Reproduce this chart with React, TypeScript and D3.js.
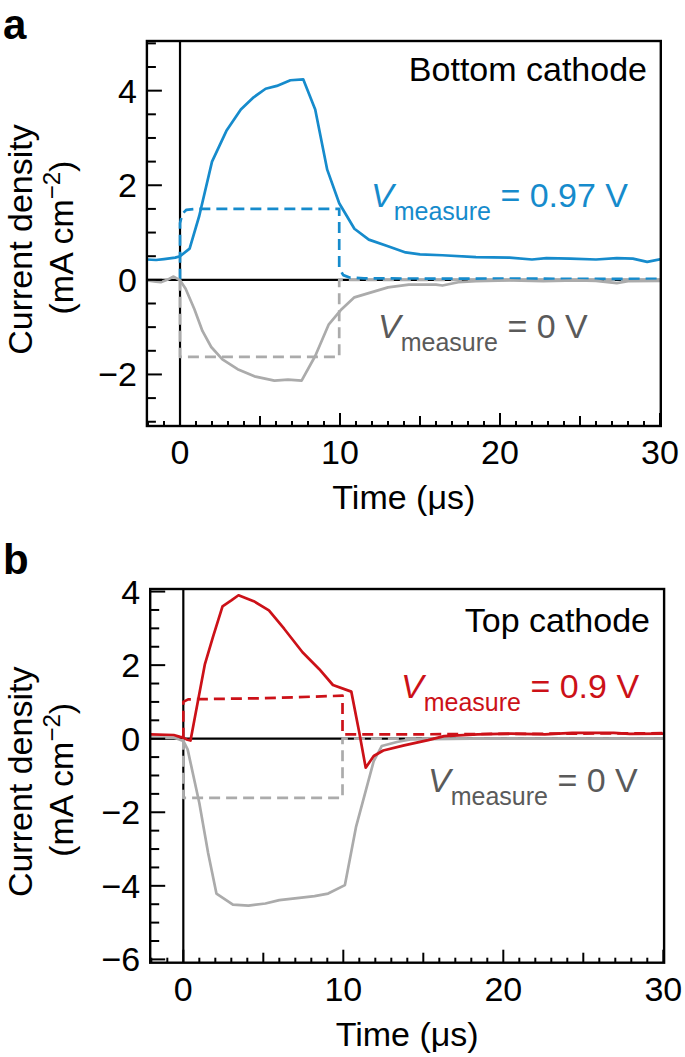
import React from 'react';
import * as d3 from 'd3';

type Pt = [number, number];

// ---------- data (time in µs, current density in mA cm^-2) ----------
const xTickLabels = [0, 10, 20, 30];
const yTickLabelsA = [-2, 0, 2, 4];
const yTickLabelsB = [-6, -4, -2, 0, 2, 4];

// Panel a – bottom cathode
const bottomMeasureSolid: Pt[] = [
  [-2.07, 0.43], [-1.5, 0.42], [-1, 0.44], [-0.3, 0.47], [0, 0.5], [0.6, 0.66],
  [1.2, 1.35], [2.0, 2.5], [2.9, 3.15], [3.8, 3.6], [4.6, 3.86], [5.35, 4.04],
  [6.05, 4.1], [6.9, 4.22], [7.7, 4.24], [8.45, 3.6], [9.2, 2.33], [9.95, 1.62],
  [10.9, 1.08], [11.8, 0.85], [13.0, 0.71], [14.1, 0.58], [15.0, 0.54], [16.4, 0.52],
  [18.5, 0.48], [20.6, 0.47], [22.0, 0.43], [22.9, 0.46], [24.4, 0.45], [26.0, 0.43],
  [27.3, 0.46], [28.3, 0.45], [29.2, 0.38], [30.1, 0.44],
];
const bottomMeasurePulse: Pt[] = [
  [0, 0], [0, 1.2], [0.15, 1.4], [0.4, 1.48], [1, 1.5], [9.95, 1.5], [9.95, 0.25],
  [10.2, 0.1], [10.6, 0.05], [11.5, 0.03], [30.1, 0.02],
];
const bottomZeroSolid: Pt[] = [
  [-2.07, -0.01], [-1.5, -0.04], [-1.2, -0.05], [-0.8, 0.0], [-0.4, 0.07], [-0.15, 0.02],
  [0, -0.01], [0.35, -0.19], [0.9, -0.62], [1.4, -1.08], [1.95, -1.42], [2.65, -1.68],
  [3.6, -1.89], [4.65, -2.04], [5.9, -2.13], [6.75, -2.11], [7.6, -2.13], [8.45, -1.61],
  [9.3, -0.94], [10.1, -0.62], [10.9, -0.37], [12.0, -0.26], [13.0, -0.16], [14.3, -0.1],
  [16.0, -0.1], [16.4, -0.12], [17.4, -0.05], [18.5, -0.03], [20.6, -0.01], [22.7, -0.03],
  [24.8, -0.01], [26.0, -0.02], [27.3, -0.07], [28.0, -0.03], [30.1, -0.02],
];
const bottomZeroPulse: Pt[] = [
  [0, 0], [0, -1.63], [9.95, -1.63], [9.95, 0], [30.1, 0],
];

// Panel b – top cathode
const topMeasureSolid: Pt[] = [
  [-2.07, 0.12], [-0.6, 0.1], [-0.2, 0.05], [0, 0.03], [0.2, -0.02], [0.45, -0.05],
  [0.7, 0.53], [1.35, 2.03], [1.85, 2.76], [2.45, 3.6], [3.0, 3.76], [3.45, 3.9],
  [4.4, 3.74], [5.35, 3.49], [6.3, 2.99], [7.45, 2.35], [8.5, 1.89], [9.35, 1.46],
  [10.5, 1.28], [11.0, 0.16], [11.4, -0.79], [11.9, -0.47], [12.5, -0.32], [13.8, -0.18],
  [15.3, -0.04], [16.3, 0.07], [18.4, 0.12], [20.5, 0.14], [22.6, 0.12], [24.3, 0.16],
  [26.9, 0.16], [27.9, 0.13], [30.1, 0.14],
];
const topMeasurePulse: Pt[] = [
  [0, 0], [0, 1.0], [0.3, 1.07], [5, 1.1], [9.95, 1.17], [9.95, 0.12], [15, 0.12], [30.1, 0.15],
];
const topZeroSolid: Pt[] = [
  [-2.07, 0.03], [-0.6, 0.03], [0, -0.06], [0.27, -0.29], [1.0, -1.75], [1.55, -3.11],
  [2.07, -4.21], [3.1, -4.51], [4.07, -4.54], [5.13, -4.48], [6.0, -4.39], [7.25, -4.33],
  [8.2, -4.28], [9.05, -4.21], [10.1, -3.98], [10.8, -2.39], [11.9, -0.61], [12.4, -0.2],
  [13.35, -0.09], [14.2, -0.02], [18, 0.0], [30.1, 0.0],
];
const topZeroPulse: Pt[] = [
  [0, 0], [0, -1.61], [9.95, -1.61], [9.95, 0], [30.1, 0],
];

// ---------- styling ----------
const FONT = '"Liberation Sans", Arial, Helvetica, sans-serif';
const BLUE = '#168bcc';
const RED = '#cc1118';
const GRAY_LINE = '#ababab';
const GRAY_TEXT = '#5a5a5a';
const DASH = '11 6';

interface PanelProps {
  id: string;
  letter: string;
  letterY: number;
  left: number; right: number; top: number; bottom: number;
  xDomain: [number, number];
  yDomain: [number, number];
  yLabels: number[];
  measureSolid: Pt[]; measurePulse: Pt[]; zeroSolid: Pt[]; zeroPulse: Pt[];
  color: string;
  title: string; titleX: number; titleY: number;
  measureText: string; mX: number; mY: number;
  zeroX: number; zeroY: number;
}

function Panel(p: PanelProps) {
  const x = d3.scaleLinear().domain(p.xDomain).range([p.left, p.right]);
  const y = d3.scaleLinear().domain(p.yDomain).range([p.bottom, p.top]);
  const line = d3.line<Pt>().x(d => x(d[0])).y(d => y(d[1]));

  const yTicks = d3.range(Math.ceil(p.yDomain[0] * 2) / 2, p.yDomain[1] + 1e-9, 0.5);
  const xTicks = d3.range(Math.ceil(p.xDomain[0]), p.xDomain[1] + 1e-9, 1);
  const cx = (p.left + p.right) / 2;
  const cy = (p.top + p.bottom) / 2;

  return (
    <g fontFamily={FONT}>
      <defs>
        <clipPath id={`clip-${p.id}`}>
          <rect x={p.left} y={p.top} width={p.right - p.left} height={p.bottom - p.top} />
        </clipPath>
      </defs>
      <text x={3} y={p.letterY} fontSize={42} fontWeight="bold" fill="#000">{p.letter}</text>

      {/* zero lines */}
      <line x1={x(0)} x2={x(0)} y1={p.top} y2={p.bottom} stroke="#000" strokeWidth={2.2} />
      <line x1={p.left} x2={p.right} y1={y(0)} y2={y(0)} stroke="#000" strokeWidth={2.2} />

      <g clipPath={`url(#clip-${p.id})`} fill="none" strokeWidth={2.7} strokeLinejoin="round">
        <path d={line(p.zeroPulse) || ''} stroke={GRAY_LINE} strokeDasharray={DASH} />
        <path d={line(p.measurePulse) || ''} stroke={p.color} strokeDasharray={DASH} />
        <path d={line(p.zeroSolid) || ''} stroke={GRAY_LINE} />
        <path d={line(p.measureSolid) || ''} stroke={p.color} />
      </g>

      {/* ticks */}
      {yTicks.map(t => {
        const major = p.yLabels.some(v => Math.abs(v - t) < 1e-9);
        return <line key={`y${t}`} x1={p.left} x2={p.left + (major ? 15 : 9)} y1={y(t)} y2={y(t)} stroke="#000" strokeWidth={2} />;
      })}
      {xTicks.map(t => {
        const len = t % 10 === 0 ? 13 : t % 5 === 0 ? 10 : 5;
        return <line key={`x${t}`} x1={x(t)} x2={x(t)} y1={p.bottom} y2={p.bottom - len} stroke="#000" strokeWidth={2} />;
      })}
      <rect x={p.left} y={p.top} width={p.right - p.left} height={p.bottom - p.top} fill="none" stroke="#000" strokeWidth={2.4} />

      {/* tick labels */}
      {p.yLabels.map(v => (
        <text key={`yl${v}`} x={p.left - 10} y={y(v) + 12} fontSize={34} textAnchor="end" fill="#000">
          {v < 0 ? `\u2212${Math.abs(v)}` : `${v}`}
        </text>
      ))}
      {xTickLabels.map(v => (
        <text key={`xl${v}`} x={x(v)} y={p.bottom + 38} fontSize={34} textAnchor="middle" fill="#000">{v}</text>
      ))}

      {/* axis titles */}
      <text x={cx} y={p.bottom + 83} fontSize={34} textAnchor="middle" fill="#000">Time (μs)</text>
      <text transform={`translate(32,${cy + 6}) rotate(-90)`} fontSize={34} textAnchor="middle" fill="#000">Current density</text>
      <text transform={`translate(73,${cy + 4}) rotate(-90)`} fontSize={34} textAnchor="middle" fill="#000">
        (mA cm<tspan fontSize={24} dy={-13}>{'\u22122'}</tspan><tspan dy={13}>)</tspan>
      </text>

      {/* annotations */}
      <text x={p.titleX} y={p.titleY} fontSize={34} textAnchor="end" fill="#000">{p.title}</text>
      <text x={p.mX} y={p.mY} fontSize={34} fill={p.color}>
        <tspan fontStyle="italic">V</tspan>
        <tspan fontSize={25} dy={12.5}>measure</tspan>
        <tspan dy={-12.5}>{` = ${p.measureText} V`}</tspan>
      </text>
      <text x={p.zeroX} y={p.zeroY} fontSize={34} fill={GRAY_TEXT}>
        <tspan fontStyle="italic">V</tspan>
        <tspan fontSize={25} dy={12.5}>measure</tspan>
        <tspan dy={-12.5}>{' = 0 V'}</tspan>
      </text>
    </g>
  );
}

export default function App() {
  return (
    <svg width={685} height={1057} viewBox="0 0 685 1057"
      style={{ position: 'absolute', left: 0, top: 0, background: '#fff' }}>
      <rect width={685} height={1057} fill="#fff" />
      <Panel id="a" letter="a" letterY={39}
        left={146.9} right={660.8} top={41} bottom={426}
        xDomain={[-2.07, 30.05]} yDomain={[-3.09, 5.05]} yLabels={yTickLabelsA}
        measureSolid={bottomMeasureSolid} measurePulse={bottomMeasurePulse}
        zeroSolid={bottomZeroSolid} zeroPulse={bottomZeroPulse}
        color={BLUE}
        title="Bottom cathode" titleX={647} titleY={81}
        measureText="0.97" mX={371} mY={207}
        zeroX={378} zeroY={338} />
      <Panel id="b" letter="b" letterY={574}
        left={150.2} right={664.1} top={589} bottom={962.7}
        xDomain={[-2.07, 30.05]} yDomain={[-6.09, 4.07]} yLabels={yTickLabelsB}
        measureSolid={topMeasureSolid} measurePulse={topMeasurePulse}
        zeroSolid={topZeroSolid} zeroPulse={topZeroPulse}
        color={RED}
        title="Top cathode" titleX={650} titleY={632}
        measureText="0.9" mX={401} mY={698}
        zeroX={428} zeroY={792} />
    </svg>
  );
}
